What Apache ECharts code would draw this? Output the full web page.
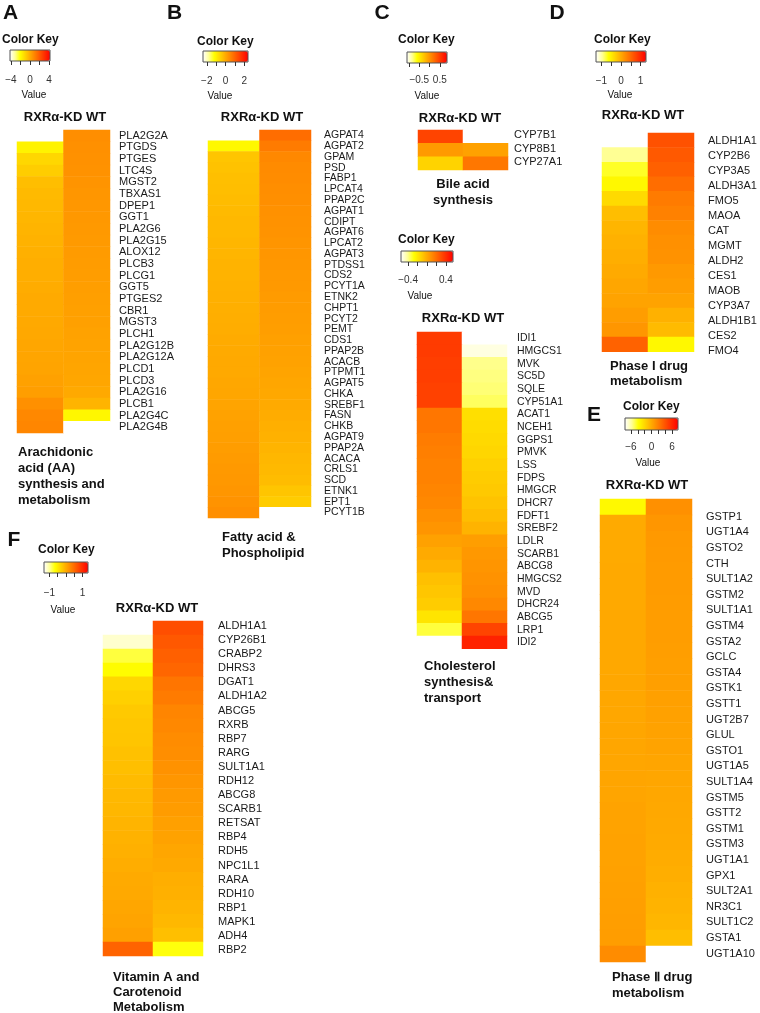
<!DOCTYPE html>
<html><head><meta charset="utf-8">
<script src="https://cdn.jsdelivr.net/npm/echarts@6/dist/echarts.min.js"></script>
<style>html,body{margin:0;padding:0;background:#fff}#c{width:760px;height:1013px}</style>
</head><body><div id="c"></div>
<script>
// ---------------- DATA ----------------
const conditions = ['RXRα-KD', 'WT'];

const geneA = ['PLA2G2A','PTGDS','PTGES','LTC4S','MGST2','TBXAS1','DPEP1','GGT1','PLA2G6','PLA2G15','ALOX12','PLCB3','PLCG1','GGT5','PTGES2','CBR1','MGST3','PLCH1','PLA2G12B','PLA2G12A','PLCD1','PLCD3','PLA2G16','PLCB1','PLA2G4C','PLA2G4B'];
const kdA = [-4.2,-1.8,-1.1,-0.85,-0.5,-0.4,-0.35,-0.3,-0.25,-0.2,-0.15,-0.1,-0.1,-0.05,0,0,0.02,0.05,0.1,0.12,0.15,0.22,0.3,0.65,0.85,0.9];
const wtA = [0.7,0.65,0.62,0.6,0.55,0.5,0.48,0.45,0.42,0.4,0.38,0.35,0.33,0.3,0.28,0.26,0.24,0.2,0.18,0.15,0.12,0.1,0.02,-0.25,-1.9,-4.2];
const keyRangeA = [-4.2, 4.2], keyTicksA = [-4,-2,0,2,4], keyLabelsA = [-4,0,4];

const geneB = ['AGPAT4','AGPAT2','GPAM','PSD','FABP1','LPCAT4','PPAP2C','AGPAT1','CDIPT','AGPAT6','LPCAT2','AGPAT3','PTDSS1','CDS2','PCYT1A','ETNK2','CHPT1','PCYT2','PEMT','CDS1','PPAP2B','ACACB','PTPMT1','AGPAT5','CHKA','SREBF1','FASN','CHKB','AGPAT9','PPAP2A','ACACA','CRLS1','SCD','ETNK1','EPT1','PCYT1B'];
const kdB = [-2.4,-1.1,-0.38,-0.34,-0.3,-0.28,-0.25,-0.23,-0.2,-0.19,-0.17,-0.15,-0.13,-0.12,-0.1,-0.08,-0.07,-0.05,-0.04,-0.02,0,0.01,0.02,0.05,0.06,0.09,0.11,0.14,0.16,0.19,0.21,0.24,0.26,0.29,0.33,0.38];
const wtB = [0.86,0.67,0.48,0.45,0.43,0.4,0.38,0.36,0.34,0.33,0.3,0.29,0.27,0.25,0.24,0.22,0.2,0.18,0.17,0.15,0.13,0.11,0.09,0.06,0.03,0.0,-0.03,-0.07,-0.1,-0.14,-0.18,-0.21,-0.25,-0.38,-0.48,-2.4];
const keyRangeB = [-2.4, 2.4], keyTicksB = [-2,-1,0,1,2], keyLabelsB = [-2,0,2];

const geneCb = ['CYP7B1','CYP8B1','CYP27A1'];
const kdCb = [0.46,-0.03,-0.36];
const wtCb = [-1.1,-0.07,0.17];
const keyRangeCb = [-1.1, 0.85], keyTicksCb = [-1,-0.5,0,0.5], keyLabelsCb = [-0.5,0.5];

const geneCc = ['IDI1','HMGCS1','MVK','SC5D','SQLE','CYP51A1','ACAT1','NCEH1','GGPS1','PMVK','LSS','FDPS','HMGCR','DHCR7','FDFT1','SREBF2','LDLR','SCARB1','ABCG8','HMGCS2','MVD','DHCR24','ABCG5','LRP1','IDI2'];
const kdCc = [0.36,0.36,0.35,0.35,0.34,0.34,0.17,0.17,0.15,0.14,0.13,0.13,0.12,0.11,0.09,0.07,0.03,0.0,-0.03,-0.07,-0.09,-0.11,-0.19,-0.33,-0.55];
const wtCc = [-0.55,-0.51,-0.40,-0.39,-0.38,-0.36,-0.17,-0.16,-0.15,-0.14,-0.12,-0.11,-0.10,-0.08,-0.06,-0.03,0.04,0.06,0.07,0.08,0.09,0.11,0.17,0.33,0.44];
const keyRangeCc = [-0.55, 0.55], keyTicksCc = [-0.4,-0.2,0,0.2,0.4], keyLabelsCc = [-0.4,0.4];

const geneD = ['ALDH1A1','CYP2B6','CYP3A5','ALDH3A1','FMO5','MAOA','CAT','MGMT','ALDH2','CES1','MAOB','CYP3A7','ALDH1B1','CES2','FMO4'];
const kdD = [-1.28,-0.95,-0.72,-0.59,-0.36,-0.15,-0.08,-0.05,-0.03,0,0.03,0.05,0.1,0.15,0.54];
const wtD = [0.67,0.61,0.56,0.46,0.36,0.31,0.23,0.2,0.18,0.13,0.1,0.05,-0.05,-0.13,-0.59];
const keyRangeD = [-1.28, 1.28], keyTicksD = [-1,-0.5,0,0.5,1], keyLabelsD = [-1,0,1];

const geneE = ['GSTP1','UGT1A4','GSTO2','CTH','SULT1A2','GSTM2','SULT1A1','GSTM4','GSTA2','GCLC','GSTA4','GSTK1','GSTT1','UGT2B7','GLUL','GSTO1','UGT1A5','SULT1A4','GSTM5','GSTT2','GSTM1','GSTM3','UGT1A1','GPX1','SULT2A1','NR3C1','SULT1C2','GSTA1','UGT1A10'];
const kdE = [-3.6,0,0,0,0.05,0.05,0.05,0.1,0.1,0.1,0.1,0.15,0.15,0.15,0.2,0.2,0.2,0.25,0.25,0.3,0.3,0.35,0.35,0.4,0.45,0.5,0.55,0.6,1.4];
const wtE = [1.2,0.9,0.8,0.75,0.7,0.7,0.65,0.6,0.6,0.55,0.5,0.5,0.45,0.4,0.35,0.3,0.25,0.2,0.15,0.1,0.05,0,-0.1,-0.2,-0.3,-0.4,-0.55,-0.9,-7.75];
const keyRangeE = [-7.75, 7.75], keyTicksE = [-6,-4,-2,0,2,4,6], keyLabelsE = [-6,0,6];

const geneF = ['ALDH1A1','CYP26B1','CRABP2','DHRS3','DGAT1','ALDH1A2','ABCG5','RXRB','RBP7','RARG','SULT1A1','RDH12','ABCG8','SCARB1','RETSAT','RBP4','RDH5','NPC1L1','RARA','RDH10','RBP1','MAPK1','ADH4','RBP2'];
const kdF = [-1.33,-1.17,-0.8,-0.64,-0.35,-0.29,-0.24,-0.22,-0.21,-0.18,-0.16,-0.13,-0.11,-0.1,-0.08,-0.06,-0.05,-0.02,0,0.01,0.03,0.05,0.08,0.56];
const wtF = [0.72,0.64,0.58,0.53,0.42,0.37,0.29,0.27,0.24,0.22,0.19,0.16,0.13,0.11,0.08,0.06,0.03,0.01,-0.03,-0.05,-0.08,-0.11,-0.16,-0.69];
const keyRangeF = [-1.33, 1.33], keyTicksF = [-1,-0.5,0,0.5,1], keyLabelsF = [-1,1];

// ---------------- LAYOUT / STYLE ----------------
const FONT = '"Liberation Sans", Arial, sans-serif';
const KEY_COLORS = ['#FFFFFF','#FFFF99','#FFFF00','#FFD500','#FFAA00','#FF8000','#FF5500','#FF2B00','#FF0000'];

const PANELS = [
  {genes:geneA, kd:kdA, wt:wtA, range:keyRangeA, ticks:keyTicksA, labels:keyLabelsA,
   hm:[17,110,130,433], lab:[119,135.8,427.2], fs:11, key:[10,50,40,11], keyLabY:80},
  {genes:geneB, kd:kdB, wt:wtB, range:keyRangeB, ticks:keyTicksB, labels:keyLabelsB,
   hm:[208,311,130,518], lab:[324,135.4,512.6], fs:10.5, key:[203,51,45,11], keyLabY:81},
  {genes:geneCb, kd:kdCb, wt:wtCb, range:keyRangeCb, ticks:keyTicksCb, labels:keyLabelsCb,
   hm:[418,508,130,170], lab:[514,135,162], fs:11, key:[407,52,40,11], keyLabY:80},
  {genes:geneCc, kd:kdCc, wt:wtCc, range:keyRangeCc, ticks:keyTicksCc, labels:keyLabelsCc,
   hm:[417,507,332,648.7], lab:[517,338.3,642.4], fs:10.5, key:[401,251,52,11], keyLabY:280},
  {genes:geneD, kd:kdD, wt:wtD, range:keyRangeD, ticks:keyTicksD, labels:keyLabelsD,
   hm:[602,694,133,351.7], lab:[708,140.5,351], fs:11, key:[596,51,50,11], keyLabY:81},
  {genes:geneE, kd:kdE, wt:wtE, range:keyRangeE, ticks:keyTicksE, labels:keyLabelsE,
   hm:[600,692,499,962], lab:[706,516.7,953.5], fs:11, key:[625,418,53,12], keyLabY:447},
  {genes:geneF, kd:kdF, wt:wtF, range:keyRangeF, ticks:keyTicksF, labels:keyLabelsF,
   hm:[103,203,621,956], lab:[218,626,950], fs:11, key:[44,562,44,11], keyLabY:593}
];

const TEXTS = [
  [10.5,13,'A','bold 21px '+FONT,'center'],[174.5,13,'B','bold 21px '+FONT,'center'],
  [382,13,'C','bold 21px '+FONT,'center'],[557,13,'D','bold 21px '+FONT,'center'],
  [594,415,'E','bold 21px '+FONT,'center'],[14,540,'F','bold 21px '+FONT,'center'],
  [2,40,'Color Key','bold 12px '+FONT,'left'],[197,42,'Color Key','bold 12px '+FONT,'left'],
  [398,40,'Color Key','bold 12px '+FONT,'left'],[398,240,'Color Key','bold 12px '+FONT,'left'],
  [594,40,'Color Key','bold 12px '+FONT,'left'],[623,407,'Color Key','bold 12px '+FONT,'left'],
  [38,550,'Color Key','bold 12px '+FONT,'left'],
  [34,95,'Value','10px '+FONT,'center'],[220,96,'Value','10px '+FONT,'center'],
  [427,96,'Value','10px '+FONT,'center'],[420,296,'Value','10px '+FONT,'center'],
  [620,95,'Value','10px '+FONT,'center'],[648,463,'Value','10px '+FONT,'center'],
  [63,610,'Value','10px '+FONT,'center'],
  [65,117,'RXRα-KD WT','bold 13px '+FONT,'center'],[262,117,'RXRα-KD WT','bold 13px '+FONT,'center'],
  [460,118,'RXRα-KD WT','bold 13px '+FONT,'center'],[463,318,'RXRα-KD WT','bold 13px '+FONT,'center'],
  [643,115,'RXRα-KD WT','bold 13px '+FONT,'center'],[647,485,'RXRα-KD WT','bold 13px '+FONT,'center'],
  [157,608,'RXRα-KD WT','bold 13px '+FONT,'center'],
  [18,452,'Arachidonic','bold 13px '+FONT,'left'],[18,468,'acid (AA)','bold 13px '+FONT,'left'],
  [18,484,'synthesis and','bold 13px '+FONT,'left'],[18,500,'metabolism','bold 13px '+FONT,'left'],
  [222,537,'Fatty acid &','bold 13px '+FONT,'left'],[222,553,'Phospholipid','bold 13px '+FONT,'left'],
  [463,184,'Bile acid','bold 13px '+FONT,'center'],[463,200,'synthesis','bold 13px '+FONT,'center'],
  [424,666,'Cholesterol','bold 13px '+FONT,'left'],[424,682,'synthesis&','bold 13px '+FONT,'left'],
  [424,698,'transport','bold 13px '+FONT,'left'],
  [610,366,'Phase I drug','bold 13px '+FONT,'left'],[610,381,'metabolism','bold 13px '+FONT,'left'],
  [612,977,'Phase Ⅱ drug','bold 13px '+FONT,'left'],[612,993,'metabolism','bold 13px '+FONT,'left'],
  [113,977,'Vitamin A and','bold 13px '+FONT,'left'],[113,992,'Carotenoid','bold 13px '+FONT,'left'],
  [113,1007,'Metabolism','bold 13px '+FONT,'left']
];

// ---------------- BUILD ----------------
const fmt = v => (v < 0 ? '\u2212' : '') + Math.abs(v);
const grid = [], xAxis = [], yAxis = [], series = [], visualMap = [];
PANELS.forEach((p, i) => {
  const n = p.genes.length;
  const [x0, x1, t0, t1] = p.hm;
  const s = (p.lab[2] - p.lab[1]) / (n - 1);
  grid.push({left:x0, top:t0, width:x1-x0, height:t1-t0, outerBoundsMode:'none'});
  xAxis.push({type:'category', gridIndex:3*i, data:conditions, show:false});
  yAxis.push({type:'category', gridIndex:3*i, data:p.genes, inverse:true, show:false});
  grid.push({left:p.lab[0]-1, top:p.lab[1]-s/2, width:1, height:n*s, outerBoundsMode:'none'});
  xAxis.push({type:'value', gridIndex:3*i+1, show:false});
  yAxis.push({type:'category', gridIndex:3*i+1, data:p.genes, inverse:true, position:'right',
    axisLine:{show:false}, axisTick:{show:false}, splitLine:{show:false},
    axisLabel:{margin:0, fontSize:p.fs, fontFamily:FONT, color:'#1a1a1a', interval:0}});
  const [kx, ky, kw, kh] = p.key;
  grid.push({left:kx, top:ky, width:kw, height:kh, show:true, borderColor:'#555', borderWidth:1,
    backgroundColor:'transparent', z:10, outerBoundsMode:'none'});
  xAxis.push({type:'value', gridIndex:3*i+2, min:p.range[0], max:p.range[1], z:10,
    axisLine:{show:false}, splitLine:{show:false},
    axisTick:{show:true, length:4, customValues:p.ticks, lineStyle:{color:'#333', width:1}},
    axisLabel:{customValues:p.labels, formatter:fmt, fontSize:10, fontFamily:FONT, color:'#333',
      margin:p.keyLabY-(ky+kh)-5}});
  yAxis.push({type:'category', gridIndex:3*i+2, data:['key'], show:false});
  const data = [];
  p.genes.forEach((g, r) => { data.push([0, r, p.kd[r]]); data.push([1, r, p.wt[r]]); });
  series.push({type:'heatmap', xAxisIndex:3*i, yAxisIndex:3*i, data,
    itemStyle:{borderWidth:0}, emphasis:{disabled:true}, animation:false});
  visualMap.push({type:'continuous', seriesIndex:i, min:p.range[0], max:p.range[1],
    orient:'horizontal', left:kx, top:ky, itemWidth:kh, itemHeight:kw, padding:0,
    calculable:false, hoverLink:false, z:4, inRange:{color:KEY_COLORS}});
});

const graphic = TEXTS.map(([x, y, text, font, align]) => ({
  type:'text', x, y, silent:true,
  style:{text, font, fill:'#111', textAlign:align, align, textVerticalAlign:'middle', verticalAlign:'middle'}
}));

const chart = echarts.init(document.getElementById('c'));
chart.setOption({animation:false, backgroundColor:'#fff', grid, xAxis, yAxis, series, visualMap, graphic});
</script></body></html>
